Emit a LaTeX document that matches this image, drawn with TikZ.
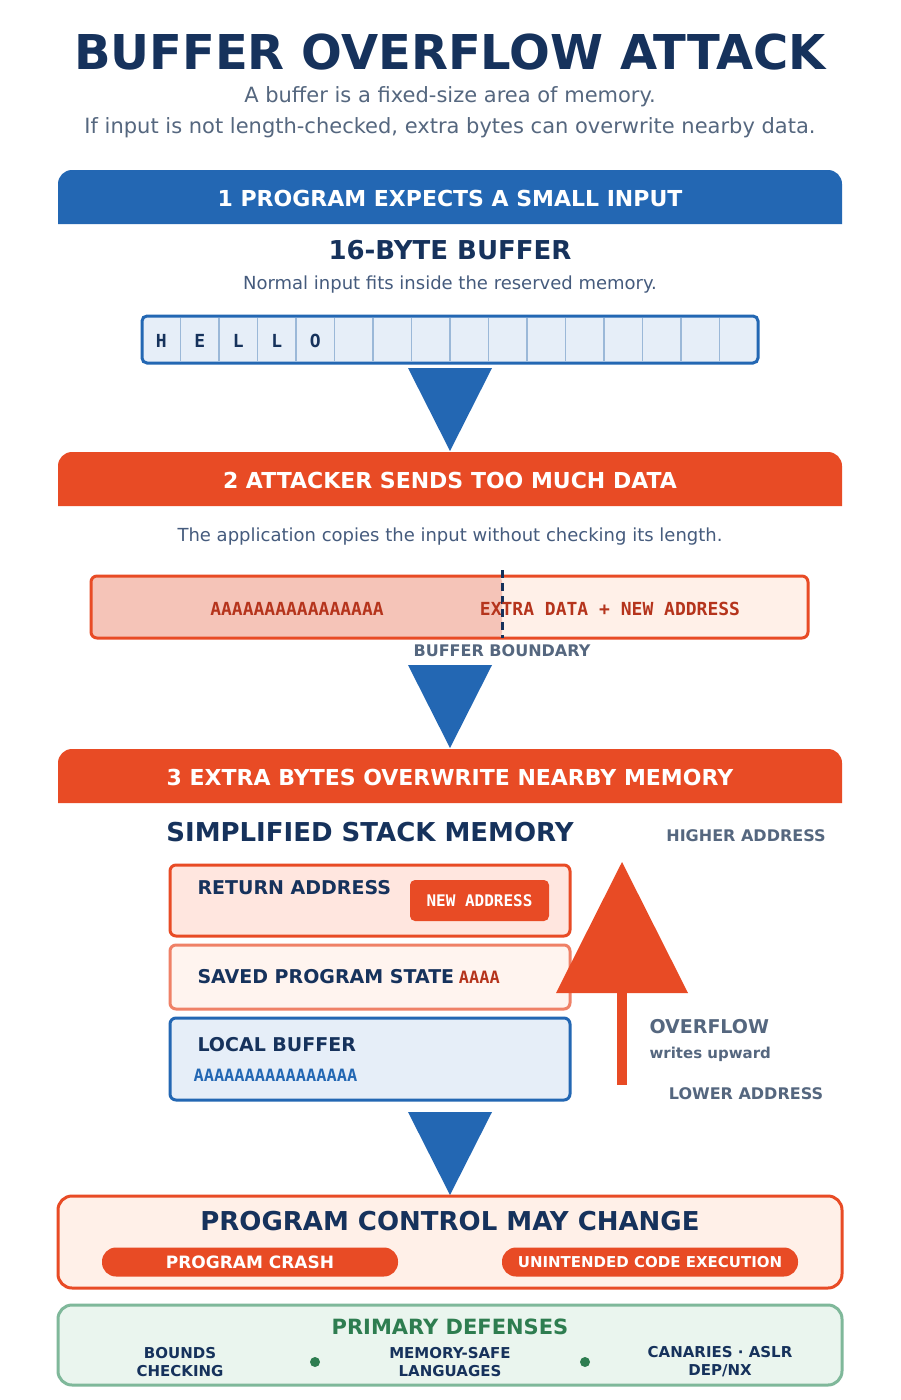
\documentclass[tikz,border=0pt]{standalone}
\usepackage{fontspec}
\setmainfont{DejaVu Sans}
\setmonofont{DejaVu Sans Mono}
\usetikzlibrary{positioning}
\definecolor{navy}{HTML}{16325C}
\definecolor{bblue}{HTML}{2367B3}
\definecolor{orng}{HTML}{E84B25}
\definecolor{slate}{HTML}{55677F}
\definecolor{lblue}{HTML}{E6EEF8}
\definecolor{cellb}{HTML}{9BB8D8}
\definecolor{dred}{HTML}{B5341C}
\definecolor{peach}{HTML}{FFF0E8}
\definecolor{pink}{HTML}{F5C4B8}
\definecolor{rose}{HTML}{FFE6DF}
\definecolor{gbord}{HTML}{7FB89A}
\definecolor{gfill}{HTML}{EAF5EE}
\definecolor{gtext}{HTML}{2E7D50}
\newcommand{\fs}[1]{\fontsize{#1}{#1}\selectfont}
\tikzset{%
	bar text/.style={text=white, font=\fs{22}\bfseries},
	step arrow/.style={fill=bblue},
	mem box/.style={rounded corners=6, line width=3},
	small label/.style={text=slate, font=\fs{16}\bfseries},
}
\begin{document}
\begin{tikzpicture}[x=1pt, y=-1pt]
	\useasboundingbox[fill=white] (0,0) rectangle (900,1400);
	
	% Title
	\node[text=navy, font=\fs{48}\bfseries] (title) at (450,52) {BUFFER OVERFLOW ATTACK};
	\node[text=slate, font=\fs{21}] (sub1) at (450,97) {A buffer is a fixed-size area of memory.};
	\node[text=slate, font=\fs{21}] (sub2) at (450,128) {If input is not length-checked, extra bytes can overwrite nearby data.};
	
	% Step 1
	\fill[bblue] (58,224) [rounded corners=14] -- (58,170) -- (842,170) [sharp corners] -- (842,224) -- cycle;
	\node[bar text] (bar1) at (450,198) {1 PROGRAM EXPECTS A SMALL INPUT};
	\node[text=navy, font=\fs{26}\bfseries] (buf16) at (450,250) {16-BYTE BUFFER};
	\node[text=navy!80, font=\fs{18}] (note1) at (450,285) {Normal input fits inside the reserved memory.};
	\fill[lblue, rounded corners=5] (142,316) rectangle (758,363);
	\foreach \i in {1,...,15}
		\draw[cellb, line width=1.5] ({142+38.5*\i},318) -- ({142+38.5*\i},361);
	\foreach \c [count=\i from 0] in {H,E,L,L,O}
		\node[text=navy, font=\fs{18}\ttfamily\bfseries] (cell\i) at ({161.25+38.5*\i},341) {\c};
	\draw[bblue, line width=3, rounded corners=5] (142,316) rectangle (758,363);
	\fill[step arrow] (408,368) -- (492,368) -- (450,451) -- cycle;
	
	% Step 2
	\fill[orng] (58,506) [rounded corners=14] -- (58,452) -- (842,452) [sharp corners] -- (842,506) -- cycle;
	\node[bar text] (bar2) at (450,480) {2 ATTACKER SENDS TOO MUCH DATA};
	\node[text=navy!80, font=\fs{18}] (note2) at (450,537) {The application copies the input without checking its length.};
	\fill[peach, rounded corners=6] (91,576) rectangle (808,638);
	\fill[pink, rounded corners=6] (91,576) rectangle (502,638);
	\draw[orng, mem box] (91,576) rectangle (808,638);
	\draw[navy, line width=3, dash pattern=on 8pt off 5pt] (502,570) -- (502,638);
	\node[text=dred, font=\fs{18}\ttfamily\bfseries] (fill) at (297,609) {AAAAAAAAAAAAAAAA};
	\node[text=dred, font=\fs{18}\ttfamily\bfseries] (extra) at (610,609) {EXTRA DATA + NEW ADDRESS};
	\node[small label] (bound) at (502,651) {BUFFER BOUNDARY};
	\fill[step arrow] (408,665) -- (492,665) -- (450,748) -- cycle;
	
	% Step 3
	\fill[orng] (58,803) [rounded corners=14] -- (58,749) -- (842,749) [sharp corners] -- (842,803) -- cycle;
	\node[bar text] (bar3) at (450,777) {3 EXTRA BYTES OVERWRITE NEARBY MEMORY};
	\node[text=navy, font=\fs{26}\bfseries] (stack) at (370,832) {SIMPLIFIED STACK MEMORY};
	\node[small label] (high) at (746,836) {HIGHER ADDRESS};
	\draw[orng, mem box, fill=rose] (170,865) rectangle (570,936);
	\node[text=navy, font=\fs{19}\bfseries, anchor=west] (ret) at (194,888) {RETURN ADDRESS};
	\node[fill=orng, rounded corners=5, minimum width=139, minimum height=41, text=white, font=\fs{16}\ttfamily\bfseries] (newaddr) at (479.5,900.5) {NEW ADDRESS};
	\draw[orng!70, mem box, fill=peach!70] (170,945) rectangle (570,1009);
	\node[text=navy, font=\fs{19}\bfseries, anchor=west] (saved) at (194,977) {SAVED PROGRAM STATE};
	\node[text=dred, font=\fs{17}\ttfamily\bfseries, anchor=west, inner sep=1] (aaaa) at (saved.east) {AAAA};
	\draw[bblue, mem box, fill=lblue] (170,1018) rectangle (570,1100);
	\node[text=navy, font=\fs{19}\bfseries, anchor=west] (local) at (194,1045) {LOCAL BUFFER};
	\node[text=bblue, font=\fs{17}\ttfamily\bfseries, anchor=west] (laaa) at (190,1075) {AAAAAAAAAAAAAAAA};
	\fill[orng] (617,1085) rectangle (627,990);
	\fill[orng] (556,993) -- (688,993) -- (622,862) -- cycle;
	\node[text=slate, font=\fs{19}\bfseries, anchor=west] (over) at (646,1027) {OVERFLOW};
	\node[text=slate, font=\fs{15}\bfseries, anchor=west] (wup) at (646,1054) {writes upward};
	\node[small label] (low) at (746,1094) {LOWER ADDRESS};
	\fill[step arrow] (408,1112) -- (492,1112) -- (450,1195) -- cycle;
	
	% Outcome
	\draw[orng, mem box, rounded corners=14, fill=peach] (58,1196) rectangle (842,1288);
	\node[text=navy, font=\fs{26}\bfseries] (ctrl) at (450,1221) {PROGRAM CONTROL MAY CHANGE};
	\node[fill=orng, rounded corners=14, minimum width=296, minimum height=29, text=white, font=\fs{17}\bfseries] (crash) at (250,1262) {PROGRAM CRASH};
	\node[fill=orng, rounded corners=14, minimum width=296, minimum height=29, text=white, font=\fs{15}\bfseries] (exec) at (650,1262) {UNINTENDED CODE EXECUTION};
	
	% Defenses
	\draw[gbord, line width=3, rounded corners=14, fill=gfill] (58,1305) rectangle (842,1385);
	\node[text=gtext, font=\fs{21}\bfseries] (def) at (450,1327) {PRIMARY DEFENSES};
	\node[text=navy, font=\fs{15}\bfseries, align=center] (d1) at (180,1362) {BOUNDS\\[3pt]CHECKING};
	\node[text=navy, font=\fs{15}\bfseries, align=center] (d2) at (450,1362) {MEMORY-SAFE\\[3pt]LANGUAGES};
	\node[text=navy, font=\fs{15}\bfseries, align=center] (d3) at (720,1362) {CANARIES · ASLR\\[3pt]DEP/NX};
	\fill[gtext] (315,1362) circle (5);
	\fill[gtext] (585,1362) circle (5);
\end{tikzpicture}
\end{document}
